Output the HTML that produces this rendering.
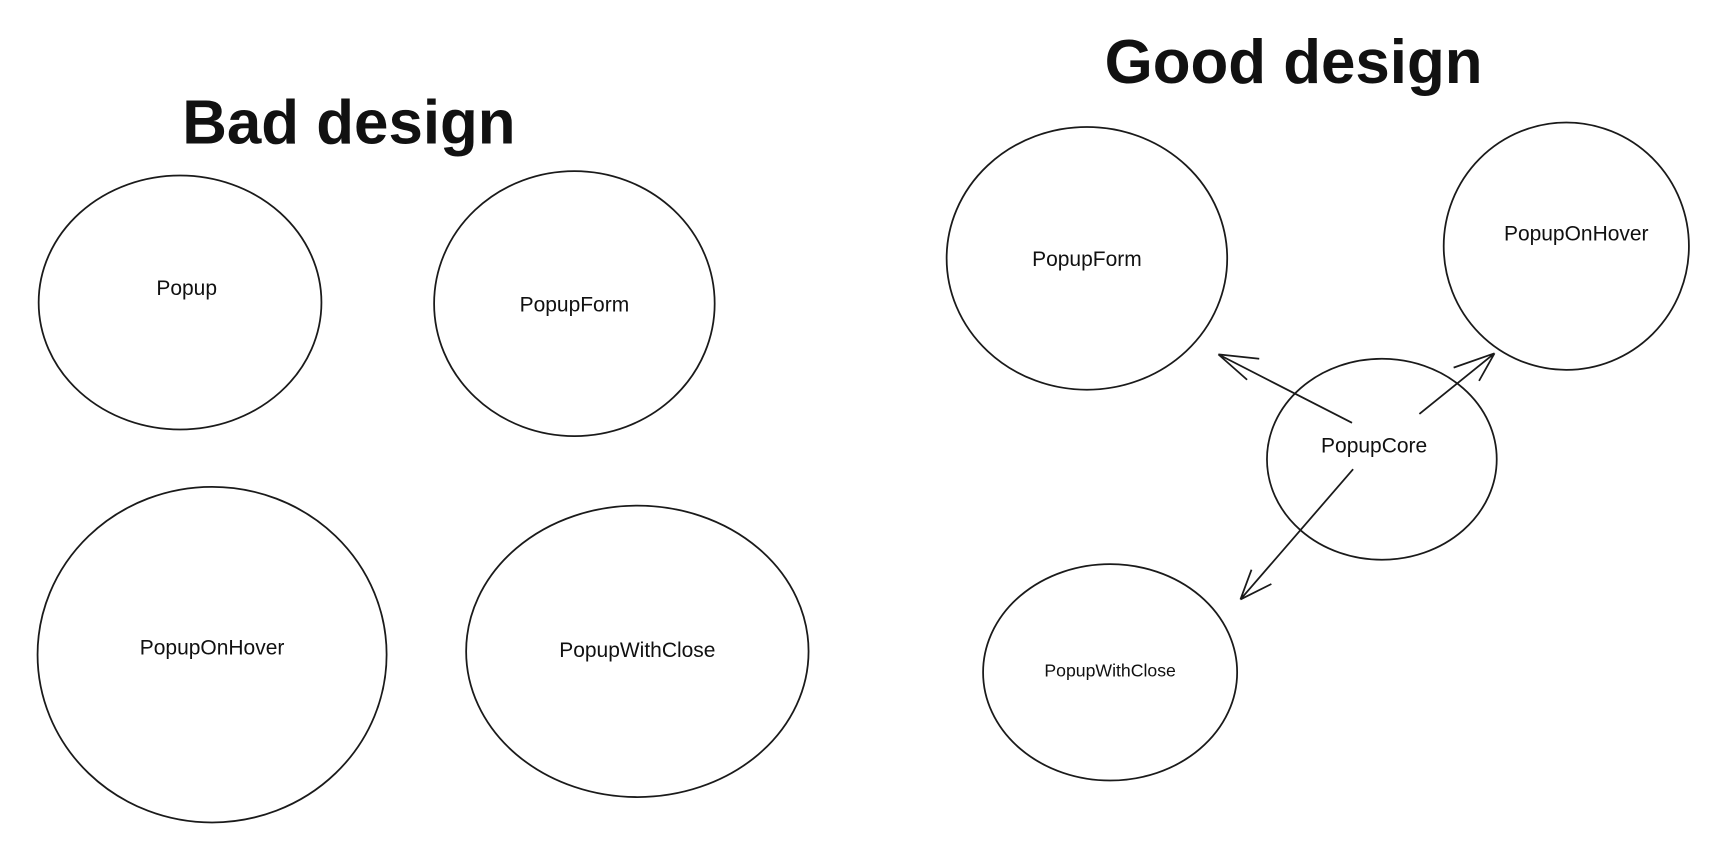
<!DOCTYPE html>
<html><head><style>
html,body{margin:0;padding:0;background:#fff;width:1732px;height:860px;overflow:hidden}
svg{display:block}
text{font-family:"Liberation Sans",sans-serif;fill:#111}
</style></head><body>
<svg width="1732" height="860" viewBox="0 0 1568 779" preserveAspectRatio="none">
<g fill="none" stroke="#1a1a1a" stroke-width="1.6">
<ellipse cx="163" cy="274" rx="128" ry="115"/>
<ellipse cx="520" cy="275" rx="127" ry="120"/>
<ellipse cx="192" cy="593" rx="158" ry="152"/>
<ellipse cx="577" cy="590" rx="155" ry="132"/>
<ellipse cx="984" cy="234" rx="127" ry="119"/>
<ellipse cx="1418" cy="223" rx="111" ry="112"/>
<ellipse cx="1251" cy="416" rx="104" ry="91"/>
<ellipse cx="1005" cy="609" rx="115" ry="98"/>
<path d="M1224 383 L1103 321 M1103 321 L1140 325 M1103 321 L1129 344"/>
<path d="M1285 375 L1353 320 M1353 320 L1316 333 M1353 320 L1339 345"/>
<path d="M1225 425 L1123 543 M1123 543 L1133 516 M1123 543 L1151 529"/>
</g>
<text x="165" y="130" font-size="56" font-weight="bold">Bad design</text>
<text x="1000" y="75" font-size="56" font-weight="bold">Good design</text>
<g font-size="19" text-anchor="middle">
<text x="169" y="267">Popup</text>
<text x="520" y="282">PopupForm</text>
<text x="192" y="593">PopupOnHover</text>
<text x="577" y="595">PopupWithClose</text>
<text x="984" y="241">PopupForm</text>
<text x="1427" y="218">PopupOnHover</text>
<text x="1244" y="410">PopupCore</text>
<text x="1005" y="613" font-size="16">PopupWithClose</text>
</g>
</svg>
</body></html>
